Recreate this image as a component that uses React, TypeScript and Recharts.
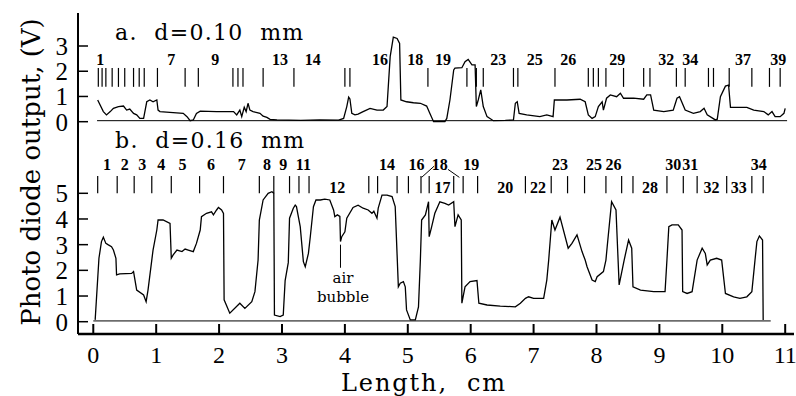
import React from "react";
import { ComposedChart, Line, Scatter, XAxis, YAxis, ReferenceLine } from "recharts";

// Shared length axis (cm)
const X_DOMAIN = [-0.243, 11.14];
const X_TICKS = [0, 1, 2, 3, 4, 5, 6, 7, 8, 9, 10, 11];
const A_DOMAIN = [-0.369, 4.308];
const A_TICKS = [0, 1, 2, 3];
const B_DOMAIN = [-0.479, 7.426];
const B_TICKS = [0, 1, 2, 3, 4, 5];

// a. d=0.10 mm  — [length cm, output V]
const CURVE_A: [number, number][] = [
  [0.07, 0.86], [0.16, 0.4], [0.21, 0.27], [0.27, 0.4], [0.32, 0.53], [0.4, 0.6], [0.48, 0.62],
  [0.53, 0.46], [0.58, 0.5], [0.64, 0.33], [0.69, 0.27], [0.74, 0.13], [0.8, 0.13], [0.85, 0.79],
  [0.9, 0.86], [0.95, 0.79], [1.01, 0.86], [1.03, 0.46], [1.06, 0.4], [1.27, 0.36], [1.43, 0.33],
  [1.49, 0.2], [1.54, 0.04], [1.59, 0.07], [1.64, 0.33], [1.7, 0.42], [1.96, 0.4], [2.23, 0.4],
  [2.28, 0.27], [2.33, 0.46], [2.36, 0.2], [2.4, 0.57], [2.43, 0.4], [2.46, 0.73], [2.49, 0.46],
  [2.54, 0.4], [2.65, 0.33], [2.7, 0.22], [2.76, 0.17], [2.81, 0.09], [2.92, 0.07], [3.3, 0.05],
  [3.6, 0.07], [3.9, 0.06], [3.98, 0.13], [4.03, 0.6], [4.06, 0.97], [4.08, 0.9], [4.11, 0.33],
  [4.16, 0.27], [4.21, 0.3], [4.29, 0.4], [4.4, 0.53], [4.51, 0.46], [4.61, 0.46], [4.67, 0.6],
  [4.72, 2.58], [4.77, 3.35], [4.83, 3.3], [4.87, 3.1], [4.89, 0.86], [4.98, 0.79], [5.09, 0.75],
  [5.2, 0.73], [5.3, 0.62], [5.35, 0.33], [5.41, 0.0], [5.59, 0.0], [5.62, 0.13], [5.67, 0.86],
  [5.73, 2.05], [5.75, 2.12], [5.86, 2.14], [5.91, 2.38], [5.96, 2.47], [6.02, 2.25], [6.07, 2.25],
  [6.09, 0.6], [6.12, 0.86], [6.16, 1.26], [6.2, 0.6], [6.26, 0.2], [6.36, 0.04], [6.55, 0.05],
  [6.68, 0.07], [6.71, 0.73], [6.74, 0.79], [6.77, 0.33], [6.89, 0.27], [7.1, 0.2], [7.21, 0.27],
  [7.31, 0.2], [7.33, 0.86], [7.53, 0.86], [7.74, 0.89], [7.82, 0.79], [7.87, 0.27], [7.93, 0.13],
  [7.98, 0.2], [8.03, 0.6], [8.09, 0.79], [8.11, 0.46], [8.16, 0.93], [8.22, 1.06], [8.32, 0.99],
  [8.38, 1.13], [8.43, 0.93], [8.59, 0.93], [8.75, 0.89], [8.8, 1.06], [8.86, 1.06], [8.91, 0.46],
  [9.07, 0.4], [9.22, 0.46], [9.28, 0.93], [9.32, 0.99], [9.41, 0.46], [9.54, 0.33], [9.65, 0.4],
  [9.71, 0.53], [9.76, 0.27], [9.89, 0.07], [9.92, 0.1], [9.97, 0.99], [10.05, 1.41], [10.1, 1.45],
  [10.13, 0.57], [10.39, 0.57], [10.5, 0.46], [10.66, 0.4], [10.73, 0.27], [10.79, 0.4],
  [10.84, 0.2], [10.92, 0.2], [10.98, 0.33], [11.0, 0.53],
];

// b. d=0.16 mm
const CURVE_B: [number, number][] = [
  [0.03, 0.07], [0.09, 2.47], [0.13, 3.12], [0.16, 3.29], [0.2, 3.05], [0.24, 2.99], [0.29, 2.92],
  [0.32, 2.79], [0.36, 2.47], [0.37, 1.82], [0.42, 1.86], [0.61, 1.88], [0.64, 1.95], [0.69, 1.23],
  [0.8, 1.04], [0.84, 0.78], [0.87, 1.23], [0.93, 2.4], [0.95, 2.79], [1.01, 3.57], [1.03, 3.96],
  [1.11, 3.96], [1.22, 3.83], [1.24, 2.47], [1.27, 2.6], [1.33, 2.79], [1.41, 2.73], [1.46, 2.83],
  [1.51, 2.79], [1.59, 2.73], [1.64, 3.05], [1.7, 3.57], [1.72, 4.09], [1.8, 4.22], [1.88, 4.28],
  [1.91, 4.16], [1.96, 4.35], [1.99, 4.45], [2.04, 4.35], [2.07, 4.22], [2.08, 0.85], [2.17, 0.33],
  [2.33, 0.72], [2.41, 0.52], [2.52, 0.78], [2.57, 1.17], [2.62, 2.4], [2.64, 3.96], [2.7, 4.74],
  [2.78, 5.0], [2.84, 5.06], [2.87, 5.0], [2.88, 0.26], [2.97, 0.2], [3.02, 0.26], [3.05, 1.6],
  [3.1, 2.3], [3.12, 4.03], [3.18, 4.42], [3.21, 4.54], [3.23, 4.48], [3.29, 3.7], [3.34, 2.34],
  [3.37, 2.14], [3.42, 2.66], [3.45, 3.31], [3.5, 4.48], [3.54, 4.74], [3.61, 4.74], [3.68, 4.77],
  [3.76, 4.74], [3.82, 4.35], [3.84, 4.09], [3.88, 4.16], [3.92, 4.1], [3.93, 3.12], [3.95, 3.31],
  [4.0, 3.5], [4.03, 4.03], [4.13, 4.45], [4.21, 4.54], [4.29, 4.42], [4.37, 4.35], [4.43, 4.22],
  [4.46, 4.3], [4.51, 4.03], [4.53, 4.42], [4.59, 4.93], [4.67, 4.93], [4.75, 4.87], [4.8, 4.48],
  [4.85, 1.36], [4.88, 1.5], [4.93, 1.56], [4.96, 1.36], [4.98, 0.46], [5.04, 0.07], [5.12, 0.07],
  [5.17, 0.58], [5.2, 2.4], [5.22, 3.96], [5.28, 4.16], [5.33, 4.67], [5.34, 3.31], [5.38, 3.7],
  [5.43, 4.22], [5.51, 4.67], [5.59, 4.61], [5.65, 4.54], [5.73, 4.67], [5.75, 3.7], [5.8, 4.16],
  [5.85, 3.96], [5.86, 0.72], [5.91, 1.36], [5.99, 1.56], [6.1, 1.6], [6.13, 0.72], [6.26, 0.65],
  [6.47, 0.61], [6.71, 0.58], [6.79, 0.72], [6.87, 0.91], [6.92, 0.97], [7.0, 0.91], [7.16, 0.91],
  [7.21, 1.62], [7.24, 2.4], [7.29, 3.96], [7.34, 3.57], [7.42, 4.07], [7.55, 2.86], [7.61, 3.05],
  [7.69, 3.38], [7.77, 2.73], [7.82, 2.4], [7.85, 2.14], [7.93, 1.62], [7.98, 1.56], [8.01, 1.75],
  [8.11, 1.95], [8.15, 2.4], [8.17, 2.92], [8.24, 4.67], [8.31, 4.35], [8.35, 2.01], [8.36, 1.43],
  [8.44, 2.4], [8.51, 3.18], [8.56, 2.86], [8.58, 1.36], [8.7, 1.23], [8.91, 1.17], [9.09, 1.17],
  [9.12, 2.4], [9.15, 3.7], [9.2, 3.77], [9.3, 3.77], [9.36, 3.57], [9.37, 1.17], [9.44, 1.1],
  [9.52, 1.17], [9.6, 2.4], [9.68, 2.86], [9.73, 2.66], [9.76, 2.21], [9.81, 2.4], [9.91, 2.47],
  [9.99, 2.4], [10.05, 1.1], [10.18, 0.97], [10.28, 0.91], [10.39, 0.97], [10.47, 1.17],
  [10.52, 2.4], [10.55, 3.12], [10.59, 3.34], [10.64, 3.18], [10.65, 0.07],
];

// position markers above each trace
const A_MARKS = [
  0.08, 0.14, 0.2, 0.3, 0.4, 0.5, 0.64, 0.73, 0.81, 1.02, 1.46, 1.67, 2.22, 2.3, 2.38, 2.7, 3.19,
  4.0, 4.08, 5.32, 5.94, 6.09, 6.2, 6.68, 6.75, 7.34, 7.87, 7.95, 8.03, 8.15, 8.43, 8.75, 8.85,
  9.27, 9.41, 9.78, 9.86, 10.11, 10.47, 10.75, 10.92,
];
const A_MARK_RANGE = [1.38, 2.13];
const B_MARKS = [
  0.07, 0.38, 0.65, 0.93, 1.24, 1.69, 2.07, 2.64, 2.87, 3.12, 3.27, 3.43, 4.38, 4.52, 4.83, 5.01,
  5.21, 5.34, 5.73, 5.88, 6.11, 6.87, 7.28, 7.54, 7.81, 8.15, 8.4, 8.58, 9.12, 9.38, 9.6, 10.07,
  10.47, 10.65,
];
const B_MARK_RANGE = [5.0, 5.67];

const A_LABELS: [string, number][] = [
  ["1", 0.11], ["7", 1.24], ["9", 1.94], ["13", 2.97], ["14", 3.49], ["16", 4.56], ["18", 5.12],
  ["19", 5.56], ["23", 6.44], ["25", 7.02], ["26", 7.55], ["29", 8.33], ["32", 9.11], ["34", 9.49],
  ["37", 10.33], ["39", 10.89],
];
const A_LABEL_Y = 2.25;
const B_LABELS_UP: [string, number][] = [
  ["1", 0.22], ["2", 0.5], ["3", 0.78], ["4", 1.08], ["5", 1.42], ["6", 1.87], ["7", 2.36],
  ["8", 2.76], ["9", 3.02], ["11", 3.34], ["14", 4.67], ["16", 5.14], ["18", 5.51], ["19", 6.01],
  ["23", 7.42], ["25", 7.96], ["26", 8.27], ["30", 9.22], ["31", 9.49], ["34", 10.58],
];
const B_LABEL_UP_Y = 5.91;
const B_LABELS_LOW: [string, number][] = [
  ["12", 3.88], ["17", 5.55], ["20", 6.55], ["22", 7.07], ["28", 8.85], ["32", 9.83], ["33", 10.26],
];
const B_LABEL_LOW_Y = 5.0;

// little leader strokes from "16" / "18" down to "17", and the air bubble pointer
const B_LEADERS: [number, number, number, number][] = [
  [5.22, 5.62, 5.42, 6.06],
  [5.64, 5.93, 5.82, 5.62],
  [3.93, 3.0, 3.93, 2.1],
];
const BUBBLE_TEXT: [string, number, number][] = [
  ["air", 3.97, 1.51],
  ["bubble", 3.97, 0.78],
];

const SERIF = "'DejaVu Serif', serif";
const TIMES = "'Liberation Serif', 'Times New Roman', serif";
const INK = "#000";

const toPts = (rows: [number, number][]) => rows.map(([x, y]) => ({ x, y }));
const toLabels = (rows: [string, number][], y: number) => rows.map(([t, x]) => ({ x, y, t }));

function makeText(size: number, weight: string, family: string) {
  return (p: any) => (
    <text
      x={p.cx}
      y={p.cy}
      textAnchor="middle"
      fontSize={size}
      fontWeight={weight}
      fontFamily={family}
      fill={INK}
    >
      {p.payload.t}
    </text>
  );
}

const yAxisProps = {
  width: 78,
  tickSize: -10,
  tickMargin: 20,
  tick: { fill: INK, fontSize: 25, fontFamily: TIMES },
  axisLine: { stroke: INK, strokeWidth: 2 },
  tickLine: { stroke: INK, strokeWidth: 1.5 },
  allowDataOverflow: true,
  interval: 0 as const,
  type: "number" as const,
};

function PanelA() {
  // extra bottom margin so the "0" tick label is not clipped; plot still ends at y=131
  return (
    <ComposedChart width={796} height={150} margin={{ top: 13, right: 2, bottom: 19, left: 0 }}>
      <XAxis dataKey="x" type="number" domain={X_DOMAIN} allowDataOverflow hide />
      <XAxis
        xAxisId="top"
        orientation="top"
        type="number"
        domain={X_DOMAIN}
        height={0}
        tick={false}
        tickLine={false}
        axisLine={{ stroke: INK, strokeWidth: 2 }}
      />
      <YAxis {...yAxisProps} domain={A_DOMAIN} ticks={A_TICKS} />
      <ReferenceLine
        segment={[{ x: 0.06, y: 0.04 }, { x: 11.03, y: 0.04 }]}
        stroke={INK}
        strokeWidth={1}
      />
      {A_MARKS.map((m) => (
        <ReferenceLine
          key={m}
          segment={[{ x: m, y: A_MARK_RANGE[0] }, { x: m, y: A_MARK_RANGE[1] }]}
          stroke={INK}
          strokeWidth={1.2}
        />
      ))}
      <Line
        data={toPts(CURVE_A)}
        dataKey="y"
        type="linear"
        stroke={INK}
        strokeWidth={1.3}
        dot={false}
        isAnimationActive={false}
      />
      <Scatter
        data={toLabels(A_LABELS, A_LABEL_Y)}
        dataKey="y"
        shape={makeText(16, "bold", TIMES)}
        isAnimationActive={false}
      />
    </ComposedChart>
  );
}

function PanelB() {
  return (
    <ComposedChart width={796} height={265} margin={{ top: 0, right: 2, bottom: 0, left: 0 }}>
      <XAxis
        dataKey="x"
        type="number"
        domain={X_DOMAIN}
        ticks={X_TICKS}
        interval={0}
        allowDataOverflow
        height={62}
        tickSize={-10}
        tickMargin={22}
        tick={{ fill: INK, fontSize: 24, fontFamily: TIMES }}
        axisLine={{ stroke: INK, strokeWidth: 2.5 }}
        tickLine={{ stroke: INK, strokeWidth: 2 }}
      />
      <YAxis {...yAxisProps} domain={B_DOMAIN} ticks={B_TICKS} />
      <ReferenceLine
        segment={[{ x: 0, y: 0.03 }, { x: 10.77, y: 0.03 }]}
        stroke={INK}
        strokeWidth={1}
      />
      {B_MARKS.map((m) => (
        <ReferenceLine
          key={m}
          segment={[{ x: m, y: B_MARK_RANGE[0] }, { x: m, y: B_MARK_RANGE[1] }]}
          stroke={INK}
          strokeWidth={1.2}
        />
      ))}
      {B_LEADERS.map(([x1, y1, x2, y2], i) => (
        <ReferenceLine
          key={"l" + i}
          segment={[{ x: x1, y: y1 }, { x: x2, y: y2 }]}
          stroke={INK}
          strokeWidth={1}
        />
      ))}
      <Line
        data={toPts(CURVE_B)}
        dataKey="y"
        type="linear"
        stroke={INK}
        strokeWidth={1.3}
        dot={false}
        isAnimationActive={false}
      />
      <Scatter
        data={toLabels(B_LABELS_UP, B_LABEL_UP_Y)}
        dataKey="y"
        shape={makeText(16, "bold", TIMES)}
        isAnimationActive={false}
      />
      <Scatter
        data={toLabels(B_LABELS_LOW, B_LABEL_LOW_Y)}
        dataKey="y"
        shape={makeText(16, "bold", TIMES)}
        isAnimationActive={false}
      />
      <Scatter
        data={BUBBLE_TEXT.map(([t, x, y]) => ({ x, y, t }))}
        dataKey="y"
        shape={makeText(15, "normal", SERIF)}
        isAnimationActive={false}
      />
    </ComposedChart>
  );
}

export default function App() {
  return (
    <div
      style={{
        position: "absolute",
        left: 0,
        top: 0,
        width: 796,
        height: 396,
        background: "#fff",
        overflow: "hidden",
      }}
    >
      <div style={{ position: "absolute", left: 0, top: 131 }}>
        <PanelB />
      </div>
      <div style={{ position: "absolute", left: 0, top: 0 }}>
        <PanelA />
      </div>
      <svg
        width={796}
        height={396}
        style={{ position: "absolute", left: 0, top: 0, pointerEvents: "none" }}
      >
        <text x={115} y={40} fontFamily={SERIF} fontSize={22} letterSpacing={1.3} style={{ whiteSpace: "pre" }}>
          {"a.  d=0.10  mm"}
        </text>
        <text x={115} y={148} fontFamily={SERIF} fontSize={22} letterSpacing={1.3} style={{ whiteSpace: "pre" }}>
          {"b.  d=0.16  mm"}
        </text>
        <text x={424} y={391} textAnchor="middle" fontFamily={SERIF} fontSize={24} letterSpacing={1.9} style={{ whiteSpace: "pre" }}>
          {"Length,  cm"}
        </text>
        <text
          x={0}
          y={0}
          transform="translate(40,172) rotate(-90)"
          textAnchor="middle"
          fontFamily={SERIF}
          fontSize={26}
        >
          Photo diode output, (V)
        </text>
      </svg>
    </div>
  );
}
